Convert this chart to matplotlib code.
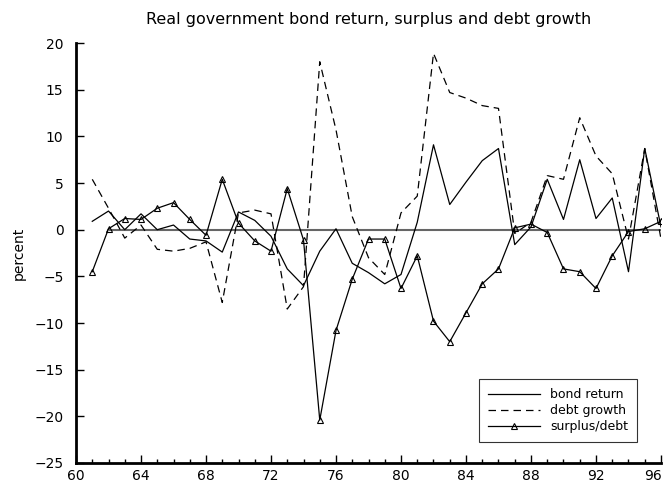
import numpy as np
import matplotlib
matplotlib.use("Agg")
import matplotlib.pyplot as plt
import matplotlib.transforms as mtransforms
from matplotlib.ticker import MultipleLocator

# データ (1961-1996, 年は下2桁)
years = np.arange(61, 97)

bond_return = [0.9, 2.0, 0.0, 1.7, 0.0, 0.5, -1.0, -1.2, -2.4, 1.9,
               1.0, -0.7, -4.2, -6.0, -2.3, 0.1, -3.6, -4.6, -5.8, -4.8,
               0.8, 9.1, 2.7, 5.1, 7.4, 8.7, -1.6, 0.3, 5.4, 1.1,
               7.5, 1.2, 3.4, -4.5, 8.7, 0.3]

debt_growth = [5.4, 2.3, -0.9, 0.5, -2.1, -2.3, -2.0, -1.3, -7.8, 1.8,
               2.1, 1.7, -8.5, -6.1, 18.0, 10.7, 1.4, -3.0, -4.8, 1.8,
               3.6, 18.9, 14.7, 14.1, 13.3, 13.0, -0.4, 0.8, 5.8, 5.4,
               12.0, 7.9, 6.0, -1.0, 8.7, -1.0]

surplus_debt = [-4.5, 0.1, 1.2, 1.1, 2.3, 2.9, 1.1, -0.6, 5.4, 0.7,
                -1.2, -2.3, 4.4, -1.1, -20.4, -10.8, -5.3, -1.0, -1.0, -6.3,
                -2.8, -9.8, -12.0, -8.9, -5.8, -4.2, 0.2, 0.6, -0.3, -4.2,
                -4.5, -6.3, -2.8, -0.2, 0.1, 0.9]

xticks = np.arange(60, 97, 4)

plt.rcParams["font.family"] = ["DejaVu Sans"]

fig = plt.figure(figsize=(6.68, 4.84), dpi=100)
ax = fig.add_axes([0.1138, 0.0434, 0.8757, 0.8676])

# ゼロライン
ax.hlines(0, 62, 96, color="#666666", lw=1.5, zorder=1)

ax.plot(years, bond_return, color="black", lw=0.9, label="bond return")
ax.plot(years, debt_growth, color="black", lw=0.9, ls=(0, (6, 4)),
        label="debt growth")
ax.plot(years, surplus_debt, color="black", lw=0.9, marker="^",
        markersize=4.2, mfc="none", mec="black", mew=0.8,
        label="surplus/debt")

ax.set_xlim(60, 96)
ax.set_ylim(-25, 20)
ax.set_xticks(xticks)
ax.set_xticklabels([str(t) for t in xticks])
ax.xaxis.set_minor_locator(MultipleLocator(1))
ax.set_yticks(np.arange(-25, 21, 5))
ax.tick_params(axis="both", which="major", direction="in", length=6,
               width=1, labelsize=10)
ax.tick_params(axis="y", pad=9)
ax.tick_params(axis="x", pad=4)
ax.tick_params(axis="x", which="minor", direction="in", length=3, width=1)

# 右端の "96" が切れないように少し左へ
last = ax.get_xticklabels()[-1]
last.set_transform(last.get_transform() +
                   mtransforms.ScaledTranslation(-6 / 72, 0, fig.dpi_scale_trans))

for side in ["top", "right"]:
    ax.spines[side].set_visible(False)
for side in ["left", "bottom"]:
    ax.spines[side].set_linewidth(2)

ax.set_ylabel("percent", fontsize=10, labelpad=6)
ax.set_title("Real government bond return, surplus and debt growth",
             fontsize=11.5, pad=14)

leg = ax.legend(loc="lower right", bbox_to_anchor=(0.97, 0.035),
                fontsize=9, frameon=True, fancybox=False,
                edgecolor="black", handlelength=4.2, borderpad=0.7,
                labelspacing=0.25)
leg.get_frame().set_linewidth(0.8)

fig.savefig("out.png", dpi=100)
